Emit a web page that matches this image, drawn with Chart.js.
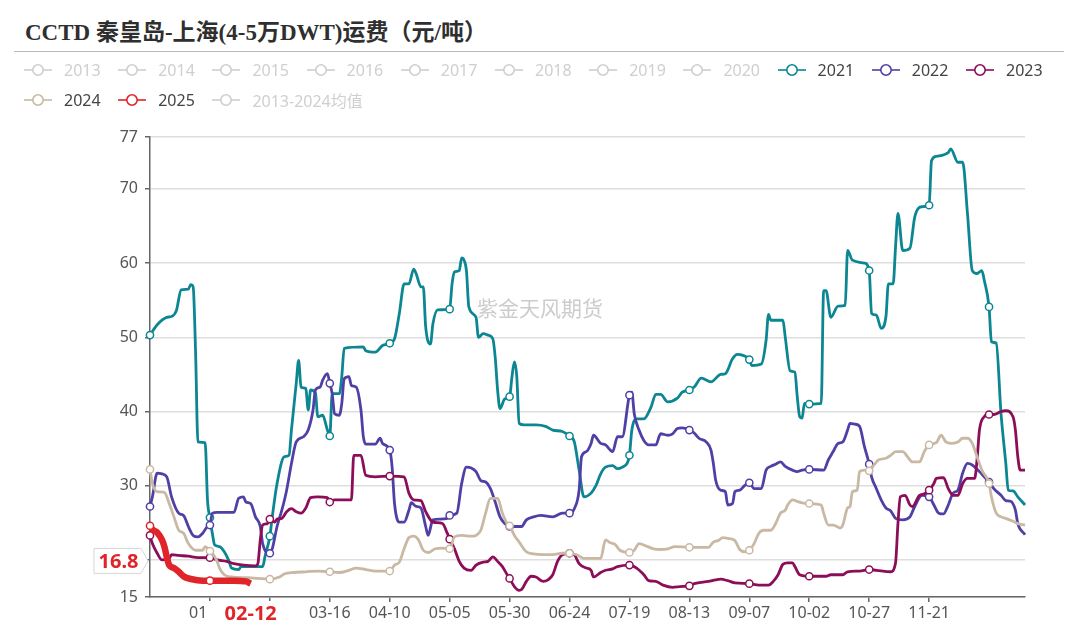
<!DOCTYPE html>
<html>
<head>
<meta charset="utf-8">
<script src="https://cdn.jsdelivr.net/npm/chart.js@4.4.1/dist/chart.umd.min.js"></script>
<style>
  html, body { margin: 0; padding: 0; background: #fff; }
  #wrap { position: relative; width: 1080px; height: 630px; overflow: hidden; font-family: "Noto Sans", "Noto Sans CJK SC", sans-serif; }
  #title { position: absolute; left: 25px; top: 13px; font: bold 23px "Liberation Serif", "Noto Sans CJK SC", serif; color: #2f2f2f; white-space: nowrap; }
  #rule { position: absolute; left: 14px; top: 51px; width: 1050px; border-top: 1.5px solid #bbb; }
  .leg { position: absolute; display: flex; align-items: center; height: 22px; font-size: 16px; white-space: nowrap; }
  .leg svg { margin-right: 12px; }
  canvas { position: absolute; left: 0; top: 0; }
</style>
</head>
<body>
<div id="wrap">
  <div id="title">CCTD 秦皇岛-上海(4-5万DWT)运费（元/吨）</div>
  <div id="rule"></div>
  <canvas id="freightChart" width="1080" height="630"></canvas>
</div>
<script>
// Day index 0..365 = 01-01..12-31 (category axis includes 02-29)
const tickDays = [25, 50, 75, 100, 125, 150, 175, 200, 225, 250, 275, 300, 325];
const tickLabels = ['01-26', '02-20', '03-16', '04-10', '05-05', '05-30', '06-24', '07-19', '08-13', '09-07', '10-02', '10-27', '11-21'];
const yTicks = [15, 20, 30, 40, 50, 60, 70, 77];
const latestDate = '02-12';
const watermark = '紫金天风期货';

// legend entries (grey ones are switched off in the original)
const legendRow1 = ['2013', '2014', '2015', '2016', '2017', '2018', '2019', '2020', '2021', '2022', '2023'];
const legendRow2 = ['2024', '2025', '2013-2024均值'];

// [day, value]
const s2021 = [[0,50.3],[3,51.7],[7,52.7],[9,52.8],[11,53.6],[13,56.4],[16,56.5],[17,57.1],[18,56.8],[19,48.2],
  [20,35.9],[23,35.8],[24,28.0],[25,25.7],[26,23.6],[27,22.0],[29,21.8],[31,21.1],[33,19.8],[34,18.9],
  [37,18.7],[38,19.1],[47,19.1],[48,20.5],[50,23.2],[51,25.8],[53,30.3],[56,33.9],[58,34.1],[59,37.5],
  [61,43.8],[62,46.9],[63,43.3],[65,43.1],[66,40.2],[67,42.9],[69,42.5],[70,39.3],[72,39.5],[74,37.5],
  [75,36.7],[76,42.4],[79,42.4],[80,44.7],[81,48.5],[89,48.7],[90,48.2],[94,48.0],[97,48.9],[100,49.2],
  [102,49.8],[104,53.2],[106,57.2],[108,57.2],[110,59.2],[111,58.6],[113,56.8],[114,56.8],[115,51.4],[117,49.1],
  [118,51.8],[120,53.7],[125,53.8],[126,57.2],[127,58.8],[129,59.0],[130,60.7],[131,60.4],[132,59.0],[133,54.1],
  [136,52.7],[137,50.0],[139,50.5],[141,50.3],[143,49.8],[144,47.3],[145,42.9],[146,40.4],[148,41.7],[150,42.0],
  [151,44.7],[152,46.7],[153,44.7],[154,38.4],[156,38.2],[161,38.2],[165,38.0],[168,37.5],[172,37.3],[175,36.7],
  [177,35.9],[179,32.1],[181,28.5],[184,29.0],[186,30.0],[188,31.6],[190,32.5],[193,32.7],[195,32.3],[197,32.5],
  [199,33.0],[200,34.1],[201,37.5],[203,39.0],[206,39.0],[209,40.6],[211,42.3],[213,42.3],[216,41.3],[220,41.8],
  [222,42.6],[225,42.9],[227,43.3],[230,44.5],[234,44.0],[238,45.0],[240,45.1],[243,47.1],[245,47.7],[247,47.6],
  [250,47.0],[251,46.2],[255,46.4],[257,49.6],[258,53.1],[259,52.3],[264,52.3],[265,50.0],[267,45.5],[269,45.3],
  [270,42.0],[271,39.3],[272,39.1],[273,41.1],[275,41.0],[280,41.1],[281,56.3],[282,56.3],[284,52.7],[287,54.2],
  [290,54.3],[291,61.7],[293,60.4],[298,60.0],[300,59.0],[301,53.2],[303,53.0],[305,51.2],[307,52.8],[308,57.2],
  [310,57.2],[311,62.2],[312,66.7],[314,61.7],[317,62.0],[319,66.2],[322,67.6],[325,67.8],[326,73.8],[328,74.4],
  [331,74.6],[333,74.9],[334,75.4],[337,73.6],[339,73.6],[341,66.7],[343,59.0],[345,58.6],[347,59.0],[348,57.7],
  [350,54.1],[351,49.4],[353,49.2],[355,39.7],[357,33.0],[358,29.4],[360,29.3],[362,28.5],[365,27.4]];

const s2022 = [[0,27.2],[1,28.5],[3,31.7],[5,31.6],[7,31.2],[9,28.5],[12,26.3],[14,26.0],[16,24.5],[18,23.3],
  [20,23.1],[22,23.6],[24,24.5],[25,24.7],[26,26.3],[28,26.4],[35,26.4],[37,28.3],[39,28.5],[40,27.8],
  [42,27.6],[44,25.8],[46,24.5],[47,22.2],[50,20.9],[51,21.5],[53,24.5],[55,26.7],[57,29.4],[59,33.0],
  [61,35.9],[64,36.6],[66,37.5],[68,40.2],[69,42.9],[71,43.3],[72,44.2],[74,45.1],[75,43.8],[76,42.4],
  [77,39.7],[79,39.5],[80,41.1],[81,44.4],[83,44.7],[84,43.5],[86,43.3],[88,40.2],[89,36.6],[90,35.6],
  [94,35.6],[96,36.4],[97,35.7],[100,34.8],[101,32.5],[102,27.6],[104,25.1],[106,25.1],[108,26.7],[109,27.7],
  [111,27.2],[113,27.0],[115,24.5],[116,23.3],[118,25.4],[121,25.5],[124,25.6],[125,26.0],[128,26.3],[130,30.3],
  [132,32.5],[134,32.4],[136,31.9],[138,30.7],[140,30.5],[142,29.6],[144,27.8],[146,25.8],[148,24.9],[150,24.5],
  [155,24.5],[157,25.4],[160,25.8],[163,26.0],[168,25.8],[172,26.3],[175,26.3],[177,26.9],[179,29.4],[180,33.9],
  [182,34.6],[184,35.7],[185,36.8],[188,35.7],[190,35.5],[192,34.8],[193,34.6],[195,36.6],[197,36.6],[200,42.2],
  [201,42.6],[202,39.7],[204,37.5],[206,36.1],[208,35.5],[211,35.5],[213,37.0],[216,36.8],[218,37.0],[220,37.7],
  [222,37.8],[225,37.5],[227,37.1],[229,36.4],[232,35.9],[234,34.8],[235,33.0],[236,30.7],[238,29.4],[240,29.2],
  [241,27.4],[243,27.6],[244,29.2],[246,29.4],[248,30.0],[250,30.4],[252,29.6],[255,29.6],[257,32.1],[259,32.6],
  [261,32.9],[263,33.2],[265,32.6],[268,32.1],[270,31.9],[272,32.1],[275,32.2],[281,32.1],[283,33.5],[285,34.6],
  [287,35.7],[289,35.9],[291,37.5],[292,38.4],[294,38.3],[296,38.0],[298,35.3],[300,32.9],[301,31.2],[303,29.6],
  [305,28.1],[307,27.0],[309,26.6],[311,25.6],[314,25.4],[317,25.8],[319,27.2],[322,28.7],[325,28.5],[327,27.4],
  [329,26.3],[331,26.2],[333,27.4],[335,29.0],[337,29.4],[339,31.7],[341,33.0],[343,32.8],[346,31.9],[348,31.2],
  [350,30.5],[352,29.6],[355,28.7],[357,28.0],[359,27.9],[361,26.7],[362,24.9],[365,23.4]];

const s2023 = [[0,23.3],[1,22.2],[3,20.9],[5,20.0],[8,20.2],[9,20.7],[12,20.6],[16,20.5],[20,20.3],[25,20.3],
  [28,20.0],[32,19.8],[35,19.5],[39,19.3],[44,19.2],[45,19.5],[46,22.7],[47,24.7],[49,24.9],[50,25.5],
  [52,25.1],[53,25.5],[55,25.6],[57,26.5],[59,26.9],[61,26.5],[63,26.3],[65,27.0],[67,28.4],[70,28.5],
  [74,28.4],[75,27.8],[77,28.1],[84,28.1],[85,34.1],[88,34.1],[90,31.4],[94,31.2],[100,31.3],[106,31.2],
  [108,29.0],[110,28.1],[113,28.0],[115,26.5],[118,25.1],[122,24.9],[124,23.6],[125,22.8],[127,21.5],[129,19.8],
  [131,18.9],[134,18.6],[136,19.3],[139,19.7],[141,19.8],[143,20.4],[145,19.8],[147,19.1],[149,18.0],[150,17.5],
  [152,16.4],[154,15.9],[155,16.0],[157,17.1],[159,17.8],[161,17.7],[164,17.1],[166,17.3],[168,18.0],[170,19.8],
  [172,20.7],[175,20.9],[177,20.7],[179,19.5],[182,18.9],[184,18.6],[185,17.7],[188,18.3],[190,18.6],[193,18.8],
  [195,19.1],[200,19.3],[203,18.9],[206,18.0],[208,17.2],[211,17.1],[214,16.6],[218,16.3],[221,16.4],[225,16.5],
  [227,16.8],[233,17.1],[236,17.3],[238,17.4],[241,17.2],[244,16.9],[250,16.8],[254,16.6],[258,16.6],[260,17.1],
  [262,18.0],[264,19.4],[266,19.6],[268,19.6],[269,19.1],[271,18.0],[275,17.8],[282,17.8],[284,18.0],[289,18.0],
  [291,18.4],[296,18.5],[300,18.7],[303,18.6],[309,18.4],[311,19.6],[312,24.9],[313,28.5],[315,28.7],[317,27.4],
  [318,27.2],[321,28.7],[323,28.9],[325,29.4],[327,30.3],[328,31.0],[331,31.1],[333,29.6],[335,28.7],[337,28.7],
  [339,30.3],[341,31.0],[344,31.0],[345,33.5],[346,37.5],[348,39.3],[350,39.6],[352,39.6],[355,40.0],[357,40.1],
  [360,39.3],[361,37.5],[362,33.9],[363,32.1],[365,32.1]];

const s2024 = [[0,32.2],[1,30.3],[3,29.2],[6,29.1],[8,27.6],[10,25.8],[12,24.0],[14,23.6],[16,22.2],[19,21.3],
  [22,21.3],[23,21.8],[25,21.2],[26,20.9],[28,19.8],[29,18.9],[31,18.0],[34,17.7],[41,17.6],[45,17.5],
  [50,17.4],[54,17.7],[56,18.1],[60,18.3],[65,18.4],[70,18.5],[75,18.4],[79,18.3],[83,18.6],[86,18.9],
  [90,18.7],[94,18.5],[100,18.5],[102,19.3],[104,19.7],[106,21.5],[108,23.0],[110,23.2],[112,22.7],[114,21.3],
  [116,21.0],[119,21.5],[122,21.6],[125,21.5],[127,23.1],[130,23.3],[134,23.2],[136,23.3],[138,24.0],[140,26.3],
  [142,28.3],[145,28.3],[147,26.3],[149,24.9],[150,24.6],[152,23.3],[154,22.4],[157,21.1],[160,20.8],[164,20.7],
  [168,20.7],[172,20.9],[175,20.9],[178,20.7],[181,20.2],[188,20.2],[190,22.7],[192,22.3],[194,22.1],[196,21.3],
  [200,21.0],[202,21.3],[204,22.2],[206,22.0],[210,21.5],[213,21.4],[216,21.5],[219,21.8],[225,21.7],[233,21.7],
  [235,22.4],[237,22.6],[239,23.0],[241,22.9],[244,22.6],[246,21.4],[248,21.1],[250,21.3],[252,22.2],[254,23.6],
  [256,24.0],[259,24.0],[261,24.9],[263,26.3],[265,26.7],[266,27.4],[268,28.1],[270,27.9],[272,27.7],[275,27.6],
  [280,27.4],[281,26.3],[283,24.7],[285,24.7],[288,24.3],[289,24.7],[291,27.0],[292,27.2],[293,29.2],[295,29.4],
  [296,31.9],[298,32.1],[300,32.0],[302,32.8],[304,33.5],[307,33.7],[309,34.1],[311,34.6],[314,34.6],[316,33.9],
  [318,33.2],[321,33.2],[323,34.6],[325,35.5],[328,35.8],[330,36.8],[332,35.9],[334,35.7],[337,35.9],[339,36.4],
  [341,36.4],[343,35.7],[345,33.9],[347,32.1],[350,30.3],[351,28.5],[353,26.3],[355,25.8],[357,25.6],[360,25.2],
  [362,24.9],[365,24.7]];

const s2025 = [[0,24.6],[1,24.1],[3,23.7],[5,22.7],[6,21.8],[7,20.4],[8,19.3],[10,18.9],[12,18.4],[14,17.8],
  [16,17.5],[19,17.3],[22,17.2],[25,17.2],[30,17.2],[35,17.2],[40,17.1],[42,16.8]];

const seriesColors = {
    '2021': '#0b8692',
    '2022': '#5040a6',
    '2023': '#8c0d58',
    '2024': '#c9b9a4',
    '2025': '#e0252a'
};
const offColor = '#cfcfcf';

// Build the legend (html, echarts style line + empty circle)
function legendIcon(color) {
    return `<svg width="28" height="14" viewBox="0 0 28 14">
        <line x1="0" y1="7" x2="28" y2="7" stroke="${color}" stroke-width="1.6"/>
        <circle cx="14" cy="7" r="5.2" fill="#fff" stroke="${color}" stroke-width="1.6"/>
    </svg>`;
}

function addLegendRow(names, top) {
    const wrap = document.getElementById('wrap');
    names.forEach((name, i) => {
        const color = seriesColors[name] || offColor;
        const item = document.createElement('div');
        item.className = 'leg';
        item.style.left = (24 + i * 94.2) + 'px';
        item.style.top = top + 'px';
        item.style.color = seriesColors[name] ? '#444' : offColor;
        item.innerHTML = legendIcon(color) + `<span>${name}</span>`;
        wrap.appendChild(item);
    });
}
addLegendRow(legendRow1, 59);
addLegendRow(legendRow2, 89);

// Watermark and the latest-value tags
const tagPlugin = {
    id: 'tags',
    beforeDatasetsDraw(chart) {
        const ctx = chart.ctx;
        ctx.save();
        ctx.font = '21px "Noto Sans CJK SC", sans-serif';
        ctx.fillStyle = 'rgba(170, 170, 170, 0.6)';
        ctx.textAlign = 'center';
        ctx.textBaseline = 'middle';
        ctx.fillText(watermark, chart.width / 2, 308);
        ctx.restore();
    },
    afterDraw(chart) {
        const ctx = chart.ctx;
        const xs = chart.scales.x;
        const ys = chart.scales.y;
        const last = s2025[s2025.length - 1];
        const red = seriesColors['2025'];
        ctx.save();

        // date tag on the x axis
        const px = xs.getPixelForValue(last[0]);
        ctx.fillStyle = '#fff';
        ctx.fillRect(px - 44, xs.top + 4, 87, 25);
        ctx.font = 'bold 20px "Noto Sans", sans-serif';
        ctx.fillStyle = red;
        ctx.textAlign = 'center';
        ctx.textBaseline = 'middle';
        ctx.fillText(latestDate, px, xs.top + 17);

        // value tag on the y axis
        const py = ys.getPixelForValue(20) + 1;
        const left = 94, right = 141, tip = 148, h = 12.5;
        ctx.beginPath();
        ctx.moveTo(left, py - h);
        ctx.lineTo(right, py - h);
        ctx.lineTo(tip, py);
        ctx.lineTo(right, py + h);
        ctx.lineTo(left, py + h);
        ctx.closePath();
        ctx.fillStyle = '#fff';
        ctx.fill();
        ctx.strokeStyle = '#d6d6d6';
        ctx.lineWidth = 1;
        ctx.stroke();
        ctx.font = 'bold 20px "Noto Sans", sans-serif';
        ctx.fillStyle = red;
        ctx.fillText(last[1].toFixed(1), (left + right) / 2 + 1, py + 1);
        ctx.restore();
    }
};

function makeDataset(name, points, width, order) {
    const color = seriesColors[name];
    return {
        label: name,
        data: points,
        borderColor: color,
        borderWidth: width,
        pointRadius: ctx => (ctx.raw && ctx.raw[0] % 25 === 0 ? 3.6 : 0),
        pointBackgroundColor: '#fff',
        pointBorderColor: color,
        pointBorderWidth: 1.5,
        cubicInterpolationMode: 'monotone',
        fill: false,
        clip: false,
        order: order
    };
}

const ctx = document.getElementById('freightChart').getContext('2d');
new Chart(ctx, {
    type: 'line',
    data: {
        datasets: [
            makeDataset('2021', s2021, 2.8, 5),
            makeDataset('2022', s2022, 2.8, 4),
            makeDataset('2023', s2023, 2.8, 3),
            makeDataset('2024', s2024, 2.8, 2),
            makeDataset('2025', s2025, 6.5, 1)
        ]
    },
    options: {
        responsive: false,
        animation: false,
        events: [],
        layout: { padding: { top: 137, left: 90, right: 55, bottom: 5 } },
        plugins: {
            legend: { display: false },
            tooltip: { enabled: false }
        },
        scales: {
            x: {
                type: 'linear',
                min: 0,
                max: 365,
                afterBuildTicks: scale => { scale.ticks = tickDays.map(v => ({ value: v })); },
                afterFit: scale => { scale.height = 28; },
                ticks: {
                    autoSkip: false,
                    maxRotation: 0,
                    padding: 2,
                    color: '#555',
                    font: { size: 16, family: '"Noto Sans", sans-serif' },
                    callback: value => tickLabels[tickDays.indexOf(value)]
                },
                grid: { drawOnChartArea: false, tickLength: 5, tickColor: '#666', lineWidth: 1.5 },
                border: { color: '#666', width: 1.5 }
            },
            y: {
                min: 15,
                max: 77,
                afterBuildTicks: scale => { scale.ticks = yTicks.map(v => ({ value: v })); },
                afterFit: scale => { scale.width = 60; },
                ticks: {
                    padding: 7,
                    color: '#555',
                    font: { size: 16, family: '"Noto Sans", sans-serif' }
                },
                grid: { color: '#dedede', lineWidth: 1.5, tickLength: 5, tickColor: '#666' },
                border: { color: '#666', width: 1.5 }
            }
        }
    },
    plugins: [tagPlugin]
});
</script>
</body>
</html>
